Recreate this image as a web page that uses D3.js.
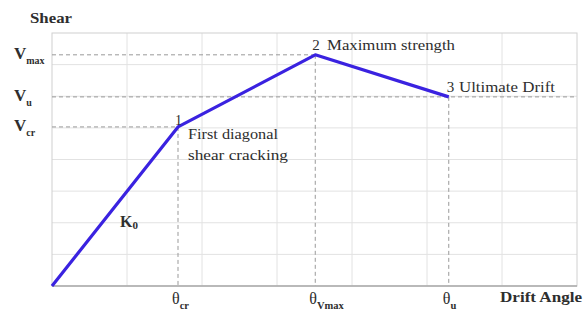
<!DOCTYPE html>
<html lang="en">
<head>
    <title>Shear - Drift Angle backbone</title>
    <meta charset="UTF-8">
    <script src="https://cdn.jsdelivr.net/npm/d3@7"></script>
    <style>
        body {
            margin: 0;
            background: #fff;
        }

        svg text {
            font-family: "Liberation Serif", "DejaVu Serif", serif;
            fill: #2e2e2e;
        }

        .grid line {
            stroke: #e2e2e2;
            stroke-width: 1px
        }

        .ref {
            stroke: #999;
            stroke-width: 1px;
            stroke-dasharray: 4, 3;
        }
    </style>
</head>
<body>
<div id="chart"></div>
<script>
    // backbone points: origin, 1 cracking, 2 max strength, 3 ultimate drift
    var driftVals = [0, 1.68, 3.51, 5.29];
    var shearVals = [0, 5.03, 7.31, 5.98];
    var pointNames = ['', '1', '2', '3'];
    var xGridTicks = [1, 2, 3, 4, 5, 6];
    var yGridTicks = [1, 2, 3, 4, 5, 6, 7];
    var yLabels = [{v: 'V', sub: 'max', i: 2}, {v: 'V', sub: 'u', i: 3}, {v: 'V', sub: 'cr', i: 1}];
    var xLabels = [{v: 'θ', sub: 'cr', i: 1}, {v: 'θ', sub: 'Vmax', i: 2}, {v: 'θ', sub: 'u', i: 3}];

    var W = 583, H = 312;
    var m = {top: 33, right: 6, bottom: 26, left: 52};

    var svg = d3.select('#chart').append('svg')
        .attr('width', W)
        .attr('height', H);

    var x = d3.scaleLinear().domain([0, 7]).range([m.left, W - m.right]);
    var y = d3.scaleLinear().domain([0, 8]).range([H - m.bottom, m.top]);

    // light grid
    var grid = svg.append('g').attr('class', 'grid');
    grid.selectAll('.vx').data(xGridTicks).enter().append('line')
        .attr('x1', d => x(d)).attr('x2', d => x(d))
        .attr('y1', y(0)).attr('y2', y(8));
    grid.selectAll('.hy').data(yGridTicks).enter().append('line')
        .attr('x1', x(0)).attr('x2', x(7))
        .attr('y1', d => y(d)).attr('y2', d => y(d));

    // frame
    svg.append('rect')
        .attr('x', x(0)).attr('y', y(8))
        .attr('width', x(7) - x(0)).attr('height', y(0) - y(8))
        .attr('fill', 'none').attr('stroke', '#d0d0d0');
    svg.append('line')
        .attr('x1', x(0)).attr('x2', x(7))
        .attr('y1', y(0)).attr('y2', y(0))
        .attr('stroke', '#aaa').attr('stroke-width', 1.5);

    // dashed reference lines
    var refs = svg.append('g');
    [1, 2, 3].forEach(function (i) {
        refs.append('line').attr('class', 'ref')
            .attr('x1', x(0)).attr('x2', i === 3 ? x(7) : x(driftVals[i]))
            .attr('y1', y(shearVals[i])).attr('y2', y(shearVals[i]));
        refs.append('line').attr('class', 'ref')
            .attr('x1', x(driftVals[i])).attr('x2', x(driftVals[i]))
            .attr('y1', y(shearVals[i])).attr('y2', y(0));
    });

    // backbone curve
    var line = d3.line().x(d => x(d[0])).y(d => y(d[1]));
    svg.append('path')
        .datum(d3.zip(driftVals, shearVals))
        .attr('d', line)
        .attr('fill', 'none')
        .attr('stroke', '#3a22e0')
        .attr('stroke-width', 3.2)
        .attr('stroke-linejoin', 'round');

    function label(tx, ty, size, txt, len, bold) {
        var t = svg.append('text').attr('x', tx).attr('y', ty)
            .attr('font-size', size).text(txt);
        if (len) t.attr('textLength', len).attr('lengthAdjust', 'spacingAndGlyphs');
        if (bold) t.attr('font-weight', 'bold');
        return t;
    }

    // axis titles
    label(30, 23, 15, 'Shear', 42, true);
    label(500, 302, 15, 'Drift Angle', 82, true);

    // y labels with subscripts
    yLabels.forEach(function (d) {
        var t = svg.append('text')
            .attr('x', 14).attr('y', y(shearVals[d.i]) + 4)
            .attr('font-weight', 'bold').attr('font-size', 17);
        t.append('tspan').text(d.v);
        t.append('tspan').attr('font-size', 10).attr('dy', 5).text(d.sub);
    });

    // x labels with subscripts
    xLabels.forEach(function (d) {
        var t = svg.append('text')
            .attr('x', x(driftVals[d.i]) - 6).attr('y', 304)
            .attr('font-size', 16);
        t.append('tspan').text(d.v);
        t.append('tspan').attr('font-size', 10.5).attr('font-weight', 'bold').attr('dy', 5).text(d.sub);
    });

    // point annotations
    label(x(driftVals[1]) - 3, y(shearVals[1]) - 2, 14, pointNames[1]);
    label(188, 139, 15, 'First diagonal', 90);
    label(188, 160, 15, 'shear cracking', 100);
    label(x(driftVals[2]) - 3, 50, 15, pointNames[2]);
    label(327, 50, 15, 'Maximum strength', 128);
    label(x(driftVals[3]) - 2, 92, 15, pointNames[3]);
    label(459, 92, 15, 'Ultimate Drift', 96);

    var k = svg.append('text').attr('x', 120).attr('y', 227)
        .attr('font-weight', 'bold').attr('font-size', 16);
    k.append('tspan').text('K');
    k.append('tspan').attr('font-size', 11).attr('dy', 2).text('0');
</script>
</body>
</html>
